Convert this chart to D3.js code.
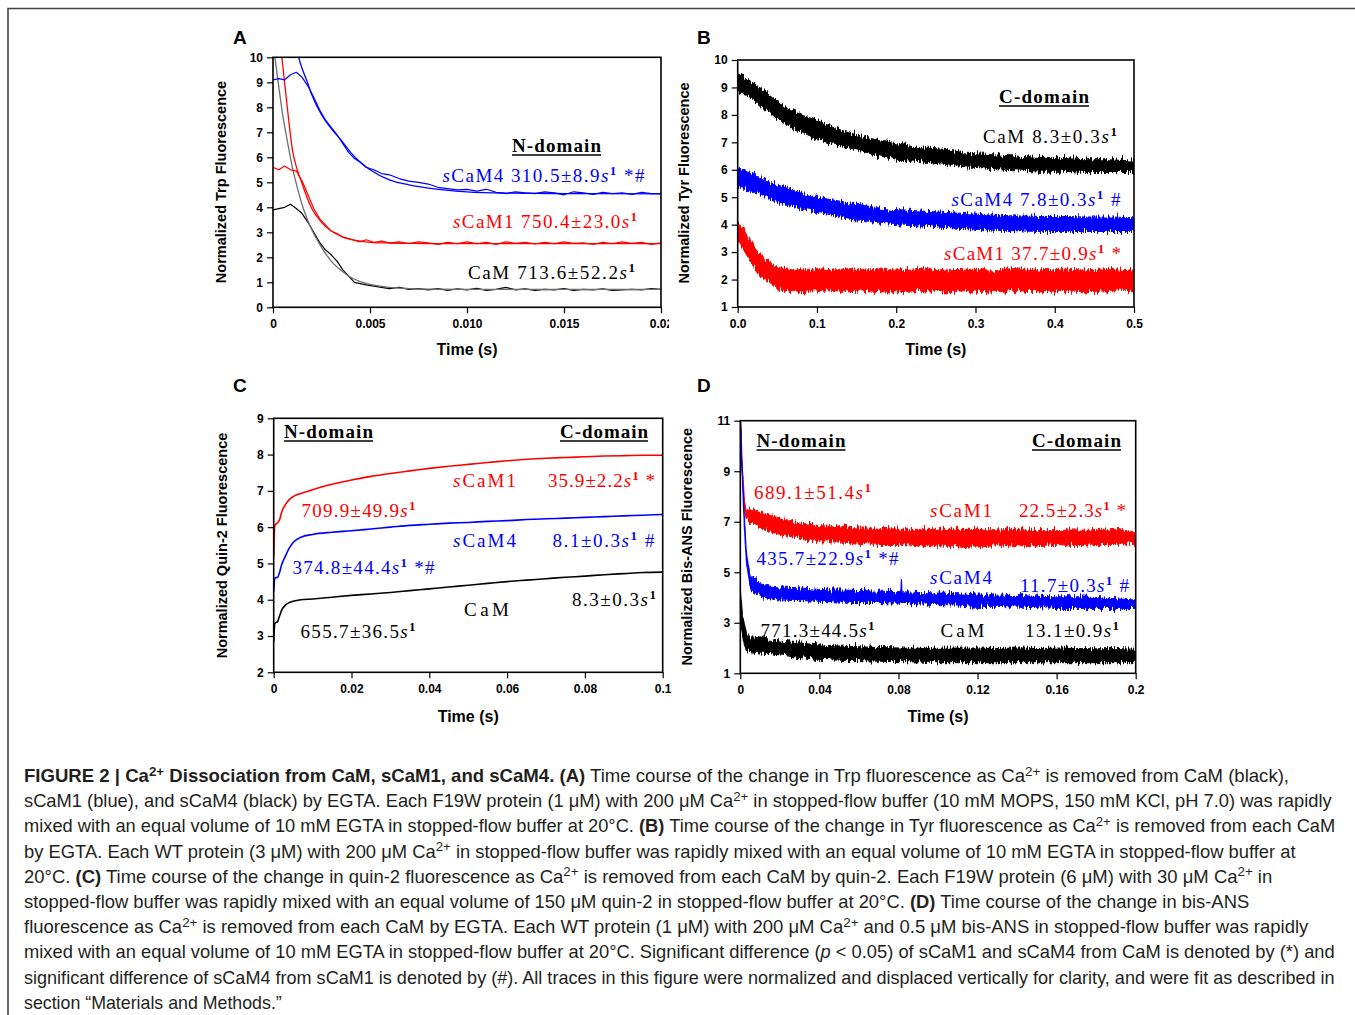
<!DOCTYPE html>
<html>
<head>
<meta charset="utf-8">
<title>Figure 2</title>
<script src="https://d3js.org/d3.v7.min.js"></script>
<style>
  body { margin: 0; background: #fff; }
  svg { display: block; }
</style>
</head>
<body>
<script>
// ---------- data ----------
// Panel A (Trp fluorescence, N-domain)
const aTimeData = [0, .0003, .0006, .0009, .0012, .0015, .0018, .0021, .0024, .0027, .003, .0033, .0036, .0039, .0042, .0045, .0048, .0052, .0056, .006, .0065, .007, .0075, .008, .0085, .009, .0095, .01, .0105, .011, .0115, .012, .0125, .013, .0135, .014, .0145, .015, .0155, .016, .0165, .017, .0175, .018, .0185, .019, .0195, .02];
const aCaM   = [3.9, 3.95, 4.0, 4.12, 3.95, 3.75, 3.4, 3.0, 2.6, 2.3, 2.1, 1.85, 1.5, 1.25, 1.0, 0.95, 0.9, 0.85, 0.8, 0.75, 0.8, 0.72, 0.75, 0.7, 0.75, 0.68, 0.74, 0.7, 0.76, 0.68, 0.72, 0.8, 0.7, 0.74, 0.68, 0.72, 0.7, 0.75, 0.68, 0.72, 0.7, 0.74, 0.68, 0.7, 0.72, 0.7, 0.75, 0.72];
const aSCaM1 = [5.6, 5.5, 5.65, 5.5, 5.45, 5.05, 4.5, 3.95, 3.55, 3.3, 3.05, 2.95, 2.8, 2.75, 2.68, 2.62, 2.7, 2.6, 2.65, 2.58, 2.62, 2.55, 2.62, 2.58, 2.52, 2.6, 2.55, 2.62, 2.55, 2.6, 2.52, 2.62, 2.56, 2.6, 2.54, 2.6, 2.55, 2.62, 2.56, 2.58, 2.52, 2.6, 2.55, 2.62, 2.56, 2.6, 2.52, 2.58];
const aSCaM4 = [9.1, 9.15, 9.1, 9.3, 9.4, 9.2, 8.85, 8.4, 7.9, 7.5, 7.2, 6.9, 6.55, 6.2, 5.95, 5.8, 5.6, 5.5, 5.35, 5.3, 5.15, 5.05, 5.0, 4.93, 4.8, 4.75, 4.7, 4.72, 4.65, 4.72, 4.6, 4.55, 4.62, 4.58, 4.55, 4.62, 4.58, 4.5, 4.62, 4.58, 4.52, 4.6, 4.55, 4.58, 4.52, 4.6, 4.55, 4.55];
const aTimeFit  = [0, .00025, .0005, .00075, .001, .00125, .0015, .00175, .002, .0025, .003, .0035, .004, .0045, .005, .006, .007, .008, .01, .012, .015, .02];
const aCaMFit   = [10.6, 9.1, 7.7, 6.6, 5.6, 4.8, 4.1, 3.55, 3.1, 2.4, 1.85, 1.48, 1.2, 1.03, 0.92, 0.8, 0.75, 0.73, 0.72, 0.72, 0.72, 0.72];
const aSCaM1Fit = [13.5, 11.5, 9.7, 7.9, 6.3, 5.5, 4.95, 4.4, 3.95, 3.4, 3.05, 2.85, 2.72, 2.65, 2.6, 2.57, 2.56, 2.55, 2.55, 2.55, 2.55, 2.55];
const aSCaM4Fit = [null, null, null, null, 11.0, 10.2, 9.55, 9.05, 8.5, 7.7, 7.15, 6.7, 6.2, 5.8, 5.5, 5.1, 4.9, 4.77, 4.62, 4.57, 4.55, 4.54];

// Panel B (Tyr fluorescence, C-domain) - upper / lower edge of the noisy traces
const bTime     = [0, .01, .02, .03, .04, .05, .06, .07, .08, .1, .12, .14, .16, .18, .2, .23, .26, .29, .32, .35, .38, .41, .44, .47, .5];
const bCaMHi    = [9.5, 9.35, 9.15, 8.95, 8.75, 8.5, 8.3, 8.15, 8.0, 7.8, 7.55, 7.35, 7.2, 7.05, 6.95, 6.8, 6.75, 6.6, 6.55, 6.5, 6.45, 6.45, 6.4, 6.4, 6.35];
const bCaMLo    = [8.9, 8.75, 8.55, 8.3, 8.1, 7.85, 7.7, 7.5, 7.4, 7.1, 6.95, 6.8, 6.65, 6.5, 6.35, 6.3, 6.2, 6.1, 6.05, 6.0, 5.95, 5.95, 5.9, 5.9, 5.9];
const bSCaM4Hi  = [6.1, 5.95, 5.8, 5.7, 5.55, 5.45, 5.35, 5.25, 5.15, 5.0, 4.9, 4.8, 4.7, 4.6, 4.55, 4.5, 4.45, 4.4, 4.35, 4.32, 4.3, 4.3, 4.28, 4.28, 4.25];
const bSCaM4Lo  = [5.4, 5.3, 5.2, 5.1, 4.95, 4.85, 4.75, 4.7, 4.6, 4.45, 4.35, 4.2, 4.15, 4.05, 4.0, 3.95, 3.9, 3.85, 3.8, 3.78, 3.75, 3.75, 3.75, 3.75, 3.75];
const bSCaM1Hi  = [4.15, 3.7, 3.2, 2.85, 2.6, 2.45, 2.4, 2.35, 2.35, 2.4, 2.35, 2.4, 2.35, 2.38, 2.35, 2.4, 2.35, 2.38, 2.35, 2.4, 2.35, 2.38, 2.35, 2.4, 2.35];
const bSCaM1Lo  = [3.5, 2.95, 2.5, 2.1, 1.9, 1.7, 1.6, 1.6, 1.55, 1.55, 1.6, 1.55, 1.6, 1.55, 1.55, 1.6, 1.55, 1.6, 1.55, 1.6, 1.55, 1.6, 1.55, 1.6, 1.55];

// Panel C (Quin-2 fluorescence)
const cTime  = [0, .0003, .001, .0015, .002, .003, .004, .005, .007, .01, .015, .02, .025, .03, .035, .04, .045, .05, .055, .06, .065, .07, .075, .08, .085, .09, .095, .1];
const cSCaM1 = [5.2, 6.05, 6.12, 6.2, 6.4, 6.62, 6.76, 6.84, 6.93, 7.03, 7.18, 7.3, 7.4, 7.48, 7.55, 7.62, 7.68, 7.73, 7.78, 7.83, 7.87, 7.9, 7.92, 7.94, 7.96, 7.97, 7.98, 7.98];
const cSCaM4 = [4.22, 4.6, 4.62, 4.75, 4.95, 5.2, 5.42, 5.58, 5.72, 5.8, 5.86, 5.9, 5.95, 6.0, 6.05, 6.08, 6.11, 6.13, 6.16, 6.18, 6.21, 6.23, 6.25, 6.27, 6.29, 6.31, 6.33, 6.35];
const cCaM   = [2.85, 3.35, 3.4, 3.55, 3.7, 3.85, 3.92, 3.96, 4.0, 4.02, 4.07, 4.12, 4.16, 4.2, 4.25, 4.3, 4.35, 4.4, 4.45, 4.5, 4.54, 4.58, 4.62, 4.65, 4.69, 4.72, 4.75, 4.76];

// Panel D (Bis-ANS fluorescence) - upper / lower edge of the noisy traces
const dTime    = [0, .001, .002, .003, .005, .01, .015, .02, .03, .04, .05, .06, .07, .0812, .0815, .0818, .09, .1, .11, .12, .13, .14, .15, .16, .17, .18, .19, .2];
const dSCaM1Hi = [11.5, 9.2, 7.9, 7.5, 7.55, 7.4, 7.25, 7.15, 6.95, 6.85, 6.8, 6.75, 6.75, 6.7, 6.7, 6.7, 6.7, 6.7, 6.7, 6.7, 6.68, 6.7, 6.65, 6.65, 6.68, 6.65, 6.7, 6.6];
const dSCaM1Lo = [11.3, 8.9, 7.6, 7.1, 6.95, 6.8, 6.6, 6.5, 6.35, 6.2, 6.2, 6.15, 6.1, 6.1, 6.1, 6.1, 6.05, 6.05, 6.0, 6.0, 6.05, 6.05, 6.05, 6.1, 6.05, 6.1, 6.1, 6.15];
const dSCaM4Hi = [11.3, 9.0, 7.3, 5.9, 4.85, 4.55, 4.45, 4.42, 4.38, 4.32, 4.3, 4.28, 4.25, 4.23, 4.8, 4.23, 4.2, 4.18, 4.15, 4.1, 4.1, 4.08, 4.05, 4.03, 4.03, 4.0, 3.95, 3.9];
const dSCaM4Lo = [11.0, 8.7, 6.9, 5.4, 4.35, 4.05, 3.95, 3.9, 3.88, 3.85, 3.82, 3.8, 3.8, 3.77, 3.77, 3.77, 3.75, 3.72, 3.7, 3.65, 3.65, 3.62, 3.6, 3.57, 3.57, 3.57, 3.57, 3.57];
const dCaMHi   = [4.5, 3.3, 3.0, 2.6, 2.45, 2.4, 2.35, 2.28, 2.2, 2.12, 2.08, 2.05, 2.02, 2.0, 2.0, 2.0, 1.99, 1.99, 2.0, 2.0, 1.98, 2.0, 1.98, 2.0, 1.98, 1.97, 1.98, 1.95];
const dCaMLo   = [3.2, 2.6, 2.1, 1.9, 1.86, 1.8, 1.78, 1.73, 1.62, 1.55, 1.52, 1.5, 1.48, 1.46, 1.46, 1.46, 1.45, 1.42, 1.42, 1.42, 1.42, 1.42, 1.42, 1.42, 1.42, 1.42, 1.42, 1.42];

// tick values and labels
const aXTicks = [0, 0.005, 0.01, 0.015, 0.02];
const aXLabels = ["0", "0.005", "0.010", "0.015", "0.02"];
const aYTicks = [0, 1, 2, 3, 4, 5, 6, 7, 8, 9, 10];
const bXTicks = [0, 0.1, 0.2, 0.3, 0.4, 0.5];
const bXLabels = ["0.0", "0.1", "0.2", "0.3", "0.4", "0.5"];
const bYTicks = [1, 2, 3, 4, 5, 6, 7, 8, 9, 10];
const cXTicks = [0, 0.02, 0.04, 0.06, 0.08, 0.1];
const cXLabels = ["0", "0.02", "0.04", "0.06", "0.08", "0.1"];
const cYTicks = [2, 3, 4, 5, 6, 7, 8, 9];
const dXTicks = [0, 0.04, 0.08, 0.12, 0.16, 0.2];
const dXLabels = ["0", "0.04", "0.08", "0.12", "0.16", "0.2"];
const dYTicks = [1, 3, 5, 7, 9, 11];

// caption lines: {bold}, ^superscript^, ~italic~
const captionLines = [
  "{FIGURE 2 | Ca^2+^ Dissociation from CaM, sCaM1, and sCaM4. (A)} Time course of the change in Trp fluorescence as Ca^2+^ is removed from CaM (black),",
  "sCaM1 (blue), and sCaM4 (black) by EGTA. Each F19W protein (1 \u03bcM) with 200 \u03bcM Ca^2+^ in stopped-flow buffer (10 mM MOPS, 150 mM KCl, pH 7.0) was rapidly",
  "mixed with an equal volume of 10 mM EGTA in stopped-flow buffer at 20\u00b0C. {(B)} Time course of the change in Tyr fluorescence as Ca^2+^ is removed from each CaM",
  "by EGTA. Each WT protein (3 \u03bcM) with 200 \u03bcM Ca^2+^ in stopped-flow buffer was rapidly mixed with an equal volume of 10 mM EGTA in stopped-flow buffer at",
  "20\u00b0C. {(C)} Time course of the change in quin-2 fluorescence as Ca^2+^ is removed from each CaM by quin-2. Each F19W protein (6 \u03bcM) with 30 \u03bcM Ca^2+^ in",
  "stopped-flow buffer was rapidly mixed with an equal volume of 150 \u03bcM quin-2 in stopped-flow buffer at 20\u00b0C. {(D)} Time course of the change in bis-ANS",
  "fluorescence as Ca^2+^ is removed from each CaM by EGTA. Each WT protein (1 \u03bcM) with 200 \u03bcM Ca^2+^ and 0.5 \u03bcM bis-ANS in stopped-flow buffer was rapidly",
  "mixed with an equal volume of 10 mM EGTA in stopped-flow buffer at 20\u00b0C. Significant difference (~p~ < 0.05) of sCaM1 and sCaM4 from CaM is denoted by (*) and",
  "significant difference of sCaM4 from sCaM1 is denoted by (#). All traces in this figure were normalized and displaced vertically for clarity, and were fit as described in",
  "section \u201cMaterials and Methods.\u201d"
];
const captionWidths = [1266, 1309, 1313, 1272, 1249, 1226, 1285, 1312, 1312, 258];

// ---------- drawing ----------
const W = 1355, H = 1015;
const SANS = "'Liberation Sans', Arial, Helvetica, sans-serif";
const SERIF = "'Liberation Serif', 'Times New Roman', serif";
const BLUE = "#0000ff", RED = "#ff0000", BLACK = "#000000", FITGRAY = "#6e6e6e";

const svg = d3.select("body").append("svg")
    .attr("width", W)
    .attr("height", H);

// rough edge for the noisy stopped-flow traces (vertical jitter only)
const defs = svg.append("defs");
const fuzz = defs.append("filter").attr("id", "fuzz")
    .attr("filterUnits", "userSpaceOnUse")
    .attr("x", 0).attr("y", 0).attr("width", W).attr("height", H);
fuzz.append("feTurbulence")
    .attr("type", "fractalNoise")
    .attr("baseFrequency", "0.7 0.06")
    .attr("numOctaves", 2)
    .attr("seed", 3)
    .attr("result", "noise");
fuzz.append("feColorMatrix")
    .attr("in", "noise")
    .attr("type", "matrix")
    .attr("values", "0 0 0 0 0.5  0 1 0 0 0  0 0 1 0 0  0 0 0 0 1")
    .attr("result", "vnoise");
fuzz.append("feDisplacementMap")
    .attr("in", "SourceGraphic")
    .attr("in2", "vnoise")
    .attr("scale", 11)
    .attr("xChannelSelector", "R")
    .attr("yChannelSelector", "G");

// page frame
svg.append("path")
    .attr("d", `M8,${H} V8.5 H${W}`)
    .attr("fill", "none")
    .attr("stroke", "#444")
    .attr("stroke-width", 1.6);

const pairs = (ts, vs) => ts.map((t, i) => [t, vs[i]]);
const bands = (ts, hi, lo) => ts.map((t, i) => ({ t: t, hi: hi[i], lo: lo[i] }));

// mini markup -> tspans
function rich(sel, str, supSize, rise) {
  let bold = false, sup = false, ital = false, buf = "", shifted = false;
  const flush = () => {
    if (!buf) return;
    const ts = sel.append("tspan").text(buf);
    if (bold) ts.attr("font-weight", "bold");
    if (ital) ts.attr("font-style", "italic");
    if (sup) {
      ts.attr("font-size", supSize);
      if (!shifted) { ts.attr("dy", -rise); shifted = true; }
    } else if (shifted) {
      ts.attr("dy", rise); shifted = false;
    }
    buf = "";
  };
  for (const ch of str) {
    if (ch === "{" || ch === "}") { flush(); bold = ch === "{"; }
    else if (ch === "^") { flush(); sup = !sup; }
    else if (ch === "~") { flush(); ital = !ital; }
    else buf += ch;
  }
  flush();
}

// serif annotations inside the plots, spaced out to the width seen in the figure
function note(g, a) {
  const t = g.append("text")
      .attr("x", a.x)
      .attr("y", a.y)
      .attr("fill", a.c || BLACK)
      .attr("font-family", SERIF)
      .attr("font-size", 19)
      .attr("font-weight", a.head ? "bold" : "normal");
  const markup = a.head ? a.text
      : a.text.replace(/s/g, "~s~").replace(/\^1/g, "^{1}^");
  rich(t, markup, 13, 7);
  const nat = t.node().getComputedTextLength();
  const n = a.text.replace("^", "").length;
  t.attr("letter-spacing", (a.w - nat) / (n - 1));
  if (a.head) {
    g.append("line")
        .attr("x1", a.x).attr("x2", a.x + a.w)
        .attr("y1", a.y + 3).attr("y2", a.y + 3)
        .attr("stroke", BLACK).attr("stroke-width", 1.3);
  }
}

function panel(p) {
  const x = d3.scaleLinear().domain(p.xDomain).range([p.left, p.right]);
  const y = d3.scaleLinear().domain(p.yDomain).range([p.bottom, p.top]);
  const g = svg.append("g");

  const clipId = "clip" + p.id;
  svg.append("clipPath").attr("id", clipId)
    .append("rect")
      .attr("x", p.left).attr("y", p.top)
      .attr("width", p.right - p.left).attr("height", p.bottom - p.top);
  const plot = g.append("g").attr("clip-path", `url(#${clipId})`);
  p.draw(plot, x, y);

  // x axis
  const gx = g.append("g")
      .attr("transform", `translate(0,${p.bottom})`)
      .call(d3.axisBottom(x).tickValues(p.xTicks)
        .tickFormat((d, i) => p.xLabels[i])
        .tickSizeInner(6).tickSizeOuter(0).tickPadding(6));
  // y axis
  const gy = g.append("g")
      .attr("transform", `translate(${p.left},0)`)
      .call(d3.axisLeft(y).tickValues(p.yTicks)
        .tickFormat(d3.format("d"))
        .tickSizeInner(6).tickSizeOuter(0).tickPadding(4));
  [gx, gy].forEach(a => {
    a.select(".domain").remove();
    a.selectAll("line").attr("stroke", BLACK).attr("stroke-width", 1.2);
    a.selectAll("text")
        .attr("fill", BLACK)
        .attr("font-family", SANS)
        .attr("font-size", 12)
        .attr("font-weight", "bold");
  });
  if (p.xClip) {
    svg.append("clipPath").attr("id", clipId + "x")
      .append("rect").attr("x", 0).attr("y", 0).attr("width", p.xClip).attr("height", H);
    gx.attr("clip-path", `url(#${clipId}x)`);
  }

  // plot frame
  g.append("rect")
      .attr("x", p.left).attr("y", p.top)
      .attr("width", p.right - p.left).attr("height", p.bottom - p.top)
      .attr("fill", "none").attr("stroke", BLACK).attr("stroke-width", 1.6);

  // axis titles
  g.append("text")
      .attr("transform", `translate(${p.yTitleX},${p.yTitleY}) rotate(-90)`)
      .attr("text-anchor", "middle")
      .attr("font-family", SANS).attr("font-size", 14.5).attr("font-weight", "bold")
      .text(p.yTitle);
  g.append("text")
      .attr("x", (p.left + p.right) / 2).attr("y", p.xTitleY)
      .attr("text-anchor", "middle")
      .attr("font-family", SANS).attr("font-size", 16).attr("font-weight", "bold")
      .text("Time (s)");

  // panel letter
  g.append("text")
      .attr("x", p.letterX).attr("y", p.letterY)
      .attr("font-family", SANS).attr("font-size", 19).attr("font-weight", "bold")
      .text(p.id);

  p.notes.forEach(a => note(g, a));
}

function drawLine(plot, x, y, data, color, width, curve) {
  plot.append("path")
      .datum(data)
      .attr("fill", "none")
      .attr("stroke", color)
      .attr("stroke-width", width)
      .attr("stroke-linejoin", "round")
      .attr("d", d3.line()
        .defined(d => d[1] != null)
        .x(d => x(d[0])).y(d => y(d[1]))
        .curve(curve || d3.curveLinear));
}

function drawBand(plot, x, y, data, color) {
  plot.append("path")
      .datum(data)
      .attr("fill", color)
      .attr("stroke", color)
      .attr("stroke-width", 1)
      .attr("stroke-linejoin", "round")
      .attr("filter", "url(#fuzz)")
      .attr("d", d3.area()
        .x(d => x(d.t)).y0(d => y(d.lo)).y1(d => y(d.hi)));
}

// Panel A
panel({
  id: "A", left: 273, right: 661, top: 57.3, bottom: 307.3,
  xDomain: [0, 0.02], yDomain: [0, 10],
  xTicks: aXTicks, xLabels: aXLabels, yTicks: aYTicks, xClip: 669,
  yTitle: "Normalized Trp Fluorescence", yTitleX: 226, yTitleY: 182,
  xTitleY: 355, letterX: 233, letterY: 44,
  draw: (plot, x, y) => {
    drawLine(plot, x, y, pairs(aTimeData, aCaM), BLACK, 1.2);
    drawLine(plot, x, y, pairs(aTimeFit, aCaMFit), FITGRAY, 1.3, d3.curveMonotoneX);
    drawLine(plot, x, y, pairs(aTimeData, aSCaM1), RED, 1.2);
    drawLine(plot, x, y, pairs(aTimeFit, aSCaM1Fit), RED, 1.3, d3.curveMonotoneX);
    drawLine(plot, x, y, pairs(aTimeData, aSCaM4), BLUE, 1.2);
    drawLine(plot, x, y, pairs(aTimeFit, aSCaM4Fit), BLUE, 1.3, d3.curveMonotoneX);
  },
  notes: [
    { x: 512, y: 152, w: 89, text: "N-domain", head: true },
    { x: 442.5, y: 182, w: 202, text: "sCaM4 310.5\u00b18.9s^1 *#", c: BLUE },
    { x: 453, y: 228, w: 184, text: "sCaM1 750.4\u00b123.0s^1", c: RED },
    { x: 468, y: 279, w: 167, text: "CaM 713.6\u00b152.2s^1", c: BLACK }
  ]
});

// Panel B
panel({
  id: "B", left: 737.7, right: 1134, top: 60, bottom: 307,
  xDomain: [0, 0.5], yDomain: [1, 10],
  xTicks: bXTicks, xLabels: bXLabels, yTicks: bYTicks,
  yTitle: "Normalized Tyr Fluorescence", yTitleX: 689, yTitleY: 183,
  xTitleY: 355, letterX: 697, letterY: 43.5,
  draw: (plot, x, y) => {
    drawBand(plot, x, y, bands(bTime, bCaMHi, bCaMLo), BLACK);
    drawBand(plot, x, y, bands(bTime, bSCaM4Hi, bSCaM4Lo), BLUE);
    drawBand(plot, x, y, bands(bTime, bSCaM1Hi, bSCaM1Lo), RED);
  },
  notes: [
    { x: 999, y: 103, w: 90, text: "C-domain", head: true },
    { x: 983, y: 142.5, w: 134, text: "CaM 8.3\u00b10.3s^1", c: BLACK },
    { x: 951.5, y: 206, w: 169, text: "sCaM4 7.8\u00b10.3s^1 #", c: BLUE },
    { x: 944, y: 260, w: 177, text: "sCaM1 37.7\u00b10.9s^1 *", c: RED }
  ]
});

// Panel C
panel({
  id: "C", left: 273.7, right: 662.7, top: 418.3, bottom: 672.3,
  xDomain: [0, 0.1], yDomain: [2, 9],
  xTicks: cXTicks, xLabels: cXLabels, yTicks: cYTicks,
  yTitle: "Normalized Quin-2 Fluorescence", yTitleX: 226.5, yTitleY: 545.5,
  xTitleY: 721.5, letterX: 233, letterY: 392,
  draw: (plot, x, y) => {
    drawLine(plot, x, y, pairs(cTime, cSCaM1), RED, 1.6, d3.curveMonotoneX);
    drawLine(plot, x, y, pairs(cTime, cSCaM4), BLUE, 1.6, d3.curveMonotoneX);
    drawLine(plot, x, y, pairs(cTime, cCaM), BLACK, 1.6, d3.curveMonotoneX);
  },
  notes: [
    { x: 284, y: 438, w: 89, text: "N-domain", head: true },
    { x: 560, y: 438, w: 88, text: "C-domain", head: true },
    { x: 453, y: 487, w: 63, text: "sCaM1", c: RED },
    { x: 548, y: 487, w: 107, text: "35.9\u00b12.2s^1 *", c: RED },
    { x: 301.5, y: 516.5, w: 114, text: "709.9\u00b149.9s^1", c: RED },
    { x: 453, y: 546.5, w: 63, text: "sCaM4", c: BLUE },
    { x: 552.5, y: 546.5, w: 102, text: "8.1\u00b10.3s^1 #", c: BLUE },
    { x: 292.5, y: 574, w: 142, text: "374.8\u00b144.4s^1 *#", c: BLUE },
    { x: 464, y: 615.5, w: 45, text: "CaM", c: BLACK },
    { x: 572, y: 606, w: 84, text: "8.3\u00b10.3s^1", c: BLACK },
    { x: 300.5, y: 637.5, w: 115, text: "655.7\u00b136.5s^1", c: BLACK }
  ]
});

// Panel D
panel({
  id: "D", left: 740.3, right: 1135.7, top: 420.7, bottom: 673.3,
  xDomain: [0, 0.2], yDomain: [1, 11],
  xTicks: dXTicks, xLabels: dXLabels, yTicks: dYTicks,
  yTitle: "Normalized Bis-ANS Fluorescence", yTitleX: 692, yTitleY: 546.7,
  xTitleY: 722, letterX: 697, letterY: 392,
  draw: (plot, x, y) => {
    drawBand(plot, x, y, bands(dTime, dSCaM1Hi, dSCaM1Lo), RED);
    drawBand(plot, x, y, bands(dTime, dSCaM4Hi, dSCaM4Lo), BLUE);
    drawBand(plot, x, y, bands(dTime, dCaMHi, dCaMLo), BLACK);
  },
  notes: [
    { x: 756.5, y: 447, w: 89, text: "N-domain", head: true },
    { x: 1032, y: 447, w: 89, text: "C-domain", head: true },
    { x: 754, y: 499, w: 117, text: "689.1\u00b151.4s^1", c: RED },
    { x: 930, y: 516.5, w: 62, text: "sCaM1", c: RED },
    { x: 1019, y: 516.5, w: 107, text: "22.5\u00b12.3s^1 *", c: RED },
    { x: 756.5, y: 565, w: 142, text: "435.7\u00b122.9s^1 *#", c: BLUE },
    { x: 930, y: 584, w: 62, text: "sCaM4", c: BLUE },
    { x: 1020, y: 591.5, w: 109, text: "11.7\u00b10.3s^1 #", c: BLUE },
    { x: 760.5, y: 636.5, w: 114, text: "771.3\u00b144.5s^1", c: BLACK },
    { x: 940.5, y: 636.5, w: 44, text: "CaM", c: BLACK },
    { x: 1025, y: 636.5, w: 94, text: "13.1\u00b10.9s^1", c: BLACK }
  ]
});

// caption
captionLines.forEach((line, i) => {
  const g = svg.append("g");
  const t = g.append("text")
      .attr("x", 0).attr("y", 0)
      .attr("fill", "#231f20")
      .attr("font-family", SANS)
      .attr("font-size", 18);
  rich(t, line, 13, 6.5);
  const nat = t.node().getComputedTextLength();
  g.attr("transform", `translate(24,${782 + i * 25.2}) scale(${captionWidths[i] / nat},1)`);
});
</script>
</body>
</html>
